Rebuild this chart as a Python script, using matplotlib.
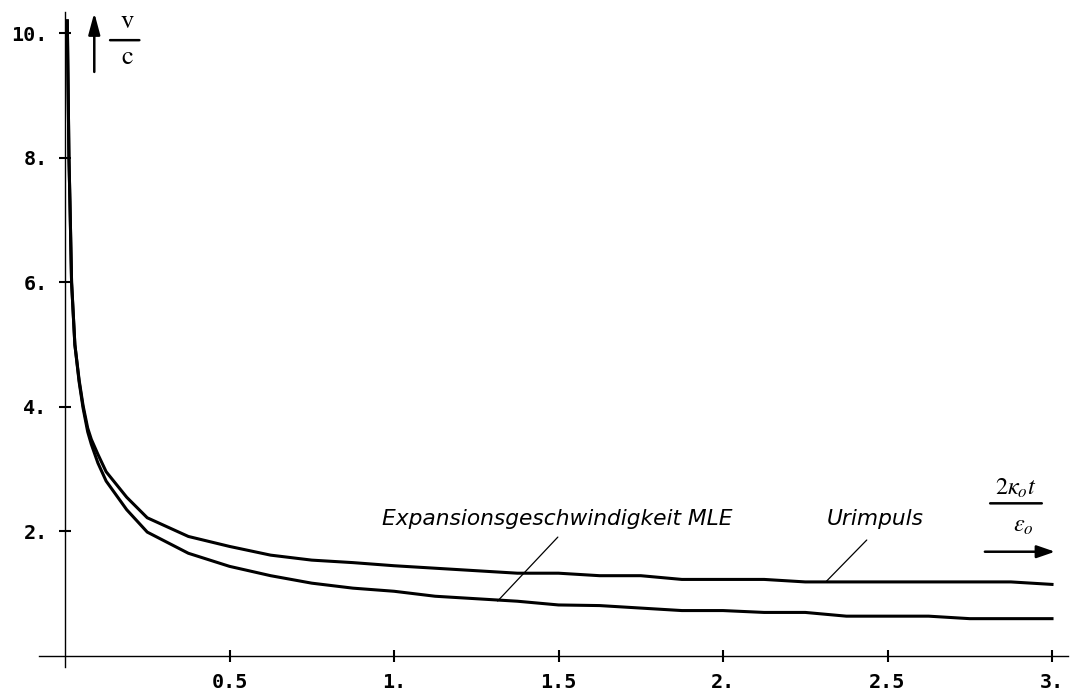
# v/c over 2*kappa_o*t/eps_o -- Urimpuls vs. Expansionsgeschwindigkeit MLE
import matplotlib
matplotlib.use("Agg")
import matplotlib.pyplot as plt

# DATA
x_vals = [0.007, 0.012, 0.015, 0.02, 0.03, 0.043, 0.055, 0.069, 0.08, 0.1,
          0.125, 0.1875, 0.25, 0.375, 0.5, 0.625, 0.75, 0.875, 1.0, 1.125,
          1.25, 1.375, 1.5, 1.625, 1.75, 1.875, 2.0, 2.125, 2.25, 2.375,
          2.5, 2.625, 2.75, 2.875, 3.0]

urimpuls = [10.2, 8.0, 7.3, 6.0, 5.0, 4.43, 4.02, 3.66, 3.48, 3.24,
            2.96, 2.55, 2.22, 1.92, 1.76, 1.62, 1.54, 1.50, 1.45, 1.41,
            1.37, 1.33, 1.33, 1.29, 1.29, 1.23, 1.23, 1.23, 1.19, 1.19,
            1.19, 1.19, 1.19, 1.19, 1.15]

mle = [10.2, 8.0, 7.3, 6.0, 5.0, 4.40, 3.98, 3.60, 3.40, 3.10,
       2.81, 2.35, 1.99, 1.65, 1.44, 1.29, 1.17, 1.09, 1.04, 0.96,
       0.92, 0.88, 0.82, 0.81, 0.77, 0.73, 0.73, 0.70, 0.70, 0.64,
       0.64, 0.64, 0.60, 0.60, 0.60]

x_ticks = [0.5, 1.0, 1.5, 2.0, 2.5, 3.0]
x_tick_labels = ["0.5", "1.", "1.5", "2.", "2.5", "3."]
y_ticks = [2, 4, 6, 8, 10]
y_tick_labels = ["2.", "4.", "6.", "8.", "10."]

LABEL_MLE = "Expansionsgeschwindigkeit MLE"
LABEL_URI = "Urimpuls"

# STYLE
plt.rcParams["mathtext.fontset"] = "stix"
TICK_FONT = dict(family="DejaVu Sans Mono", weight="bold", size=14.5)
CURVE_LW = 2.2
INK = "black"

fig = plt.figure(figsize=(10.71, 6.95), dpi=100)
fig.patch.set_facecolor("white")
ax = fig.add_axes([0, 0, 1, 1])
ax.set_xlim(-65 / 329, (1071 - 65) / 329)
ax.set_ylim(-0.626, 10.535)
ax.patch.set_alpha(0)

# axes crossing at the origin
for side in ("top", "right"):
    ax.spines[side].set_visible(False)
ax.spines["left"].set_position(("data", 0))
ax.spines["bottom"].set_position(("data", 0))
ax.spines["left"].set_bounds(-0.17, 10.35)
ax.spines["bottom"].set_bounds(-0.08, 3.05)
for side in ("left", "bottom"):
    ax.spines[side].set_linewidth(1.0)
    ax.spines[side].set_color(INK)

ax.set_xticks(x_ticks)
ax.set_xticklabels(x_tick_labels, fontdict=TICK_FONT)
ax.set_yticks(y_ticks)
ax.set_yticklabels(y_tick_labels, fontdict=TICK_FONT)
ax.tick_params(direction="inout", length=9, width=1.5, pad=8, colors=INK)

# curves
ax.plot(x_vals, urimpuls, color=INK, lw=CURVE_LW, solid_joinstyle="round")
ax.plot(x_vals, mle, color=INK, lw=CURVE_LW, solid_joinstyle="round")

# curve labels with leader lines
lab_font = dict(family="DejaVu Sans", style="italic", size=15.7)
ax.text(1.497, 2.10, LABEL_MLE, ha="center", va="baseline", **lab_font)
ax.text(2.462, 2.10, LABEL_URI, ha="center", va="baseline", **lab_font)
ax.annotate("", xy=(1.315, 0.883), xytext=(1.498, 1.91),
            arrowprops=dict(arrowstyle="-", lw=0.9, color=INK, shrinkA=0, shrinkB=0))
ax.annotate("", xy=(2.313, 1.193), xytext=(2.437, 1.863),
            arrowprops=dict(arrowstyle="-", lw=0.9, color=INK, shrinkA=0, shrinkB=0))

# y label: arrow + v/c
ax.annotate("", xy=(0.089, 10.33), xytext=(0.089, 9.38),
            arrowprops=dict(arrowstyle="-|>,head_length=1.3,head_width=0.35",
                            lw=1.8, color=INK, shrinkA=0, shrinkB=0))
serif = dict(family="STIXGeneral", size=19)
ax.text(0.1875, 10.08, "v", ha="center", va="baseline", **serif)
ax.text(0.1875, 9.51, "c", ha="center", va="baseline", **serif)
ax.annotate("", xy=(0.226, 9.89), xytext=(0.137, 9.89),
            arrowprops=dict(arrowstyle="-", lw=1.8, color=INK, shrinkA=0, shrinkB=0))

# x label: 2 kappa_o t / eps_o + arrow
ax.text(2.891, 2.597, r"$2\kappa_o t$", ha="center", va="baseline", size=17.5)
ax.annotate("", xy=(2.969, 2.452), xytext=(2.812, 2.452),
            arrowprops=dict(arrowstyle="-", lw=1.8, color=INK, shrinkA=0, shrinkB=0))
ax.text(2.912, 1.996, r"$\varepsilon_o$", ha="center", va="baseline", size=17.5)
ax.annotate("", xy=(3.009, 1.675), xytext=(2.796, 1.675),
            arrowprops=dict(arrowstyle="-|>,head_length=1.1,head_width=0.38",
                            lw=1.8, color=INK, shrinkA=0, shrinkB=0))

fig.savefig("out.png", dpi=100, facecolor="white")
